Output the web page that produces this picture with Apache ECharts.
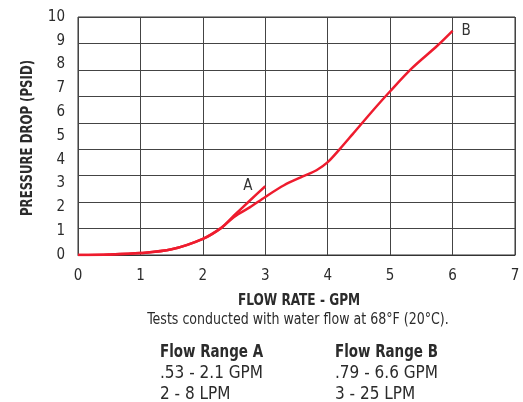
<!DOCTYPE html>
<html>
<head>
<meta charset="utf-8">
<script src="https://cdn.jsdelivr.net/npm/echarts@6/dist/echarts.min.js"></script>
<style>html,body{margin:0;padding:0;background:#fff}#c{width:523px;height:402px}</style>
</head>
<body>
<div id="c"></div>
<script>
var FONT = "'Liberation Sans Narrow', 'DejaVu Sans Condensed', 'Roboto', sans-serif";
var xTicks = [0, 1, 2, 3, 4, 5, 6, 7];
var yTicks = [0, 1, 2, 3, 4, 5, 6, 7, 8, 9, 10];
var seriesB = [[0,0],[0.5,0.02],[1,0.08],[1.5,0.24],[2,0.68],[2.3,1.15],[2.5,1.6],[2.75,2.0],[3,2.44],[3.3,2.93],[3.6,3.3],[3.82,3.56],[4,3.9],[4.2,4.47],[4.4,5.08],[4.7,6.0],[5,6.88],[5.35,7.85],[5.75,8.78],[6,9.42]];
var seriesA = [[0,0],[0.5,0.02],[1,0.08],[1.5,0.24],[2,0.68],[2.3,1.15],[2.5,1.66],[2.75,2.28],[3,2.89]];
var labelA = 'A';
var labelB = 'B';
var xTitle = 'FLOW RATE - GPM';
var yTitle = 'PRESSURE DROP (PSID)';
var note = 'Tests conducted with water flow at 68°F (20°C).';
var rangeA = ['Flow Range A', '.53 - 2.1 GPM', '2 - 8 LPM'];
var rangeB = ['Flow Range B', '.79 - 6.6 GPM', '3 - 25 LPM'];

var chart = echarts.init(document.getElementById('c'));
var textColor = '#2b2b2b';
function txt(s, x, y, font, sx, align, rot) {
  return { type: 'text', x: x, y: y, rotation: rot || 0, scaleX: sx || 1,
    style: { text: s, font: font, fill: textColor, textAlign: align || 'left', textVerticalAlign: 'middle' } };
}
chart.setOption({
  animation: false,
  grid: { left: 78, right: 8, top: 17, bottom: 147, show: true, borderColor: '#333', borderWidth: 1 },
  xAxis: {
    type: 'value', min: xTicks[0], max: xTicks[xTicks.length - 1], interval: 1,
    axisLine: { show: true, lineStyle: { color: '#333', width: 1 } },
    axisTick: { show: false },
    axisLabel: { margin: 14, fontFamily: FONT, fontSize: 15, color: textColor },
    splitLine: { show: true, lineStyle: { color: '#444', width: 1 } }
  },
  yAxis: [{
    type: 'value', min: yTicks[0], max: yTicks[yTicks.length - 1], interval: 1,
    axisLine: { show: false }, axisTick: { show: false },
    axisLabel: { margin: 13, fontFamily: FONT, fontSize: 15, color: textColor },
    splitLine: { show: false }
  }, {
    type: 'value', min: 0, max: 9, interval: 1, position: 'left',
    axisLine: { show: false }, axisTick: { show: false }, axisLabel: { show: false },
    splitLine: { show: true, lineStyle: { color: '#444', width: 1 } }
  }],
  series: [{
    type: 'line', yAxisIndex: 0, data: seriesA,
    smooth: 0.3, showSymbol: false, symbol: 'none',
    lineStyle: { color: '#ee1c2e', width: 2.5 }, z: 3,
    endLabel: { show: true, formatter: labelA, offset: [-30, 0], color: '#333', fontSize: 15, fontFamily: FONT }
  }, {
    type: 'line', yAxisIndex: 0, data: seriesB,
    smooth: 0.3, showSymbol: false, symbol: 'none',
    lineStyle: { color: '#ee1c2e', width: 2.5 }, z: 3,
    endLabel: { show: true, formatter: labelB, distance: 9, color: '#333', fontSize: 15, fontFamily: FONT }
  }],
  graphic: [
    txt(yTitle, 28, 138, 'bold 15px ' + FONT, 0.87, 'center', Math.PI / 2),
    txt(xTitle, 299, 301, 'bold 15px ' + FONT, 0.9, 'center'),
    txt(note, 298, 320, '15px ' + FONT, 0.935, 'center'),
    txt(rangeA[0], 160, 353, 'bold 17px ' + FONT, 0.88),
    txt(rangeA[1], 160, 374, '17px ' + FONT, 1),
    txt(rangeA[2], 160, 395, '17px ' + FONT, 1),
    txt(rangeB[0], 335, 353, 'bold 17px ' + FONT, 0.88),
    txt(rangeB[1], 335, 374, '17px ' + FONT, 1),
    txt(rangeB[2], 335, 395, '17px ' + FONT, 1)
  ]
});
</script>
</body>
</html>
